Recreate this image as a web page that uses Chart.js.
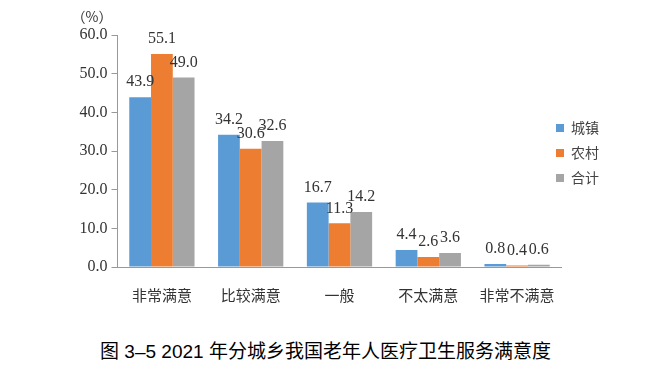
<!DOCTYPE html>
<html>
<head>
<meta charset="utf-8">
<script src="https://cdn.jsdelivr.net/npm/chart.js@4"></script>
<style>
    body { margin: 0; background: #fff; }
    #wrap { position: relative; width: 651px; height: 373px; }
    #box { position: absolute; left: 0; top: 0; width: 651px; height: 310px; }
    #caption {
        position: absolute; left: 0; top: 336px; width: 651px; text-align: center;
        font-family: "Liberation Sans", "Noto Sans CJK SC", sans-serif; font-size: 19px; color: #000;
    }
</style>
</head>
<body>
<div id="wrap">
    <div id="box"><canvas id="satisfactionChart"></canvas></div>
    <div id="caption">图 3–5 2021 年分城乡我国老年人医疗卫生服务满意度</div>
</div>
<script>
// Satisfaction with medical services, urban vs rural (%)
const categories = ['非常满意', '比较满意', '一般', '不太满意', '非常不满意'];
const seriesNames = ['城镇', '农村', '合计'];
const urbanValues = [43.9, 34.2, 16.7, 4.4, 0.8];
const ruralValues = [55.1, 30.6, 11.3, 2.6, 0.4];
const totalValues = [49.0, 32.6, 14.2, 3.6, 0.6];
const yTicks = [0, 10, 20, 30, 40, 50, 60];
const unitLabel = '（%）';

const colors = ['#5B9BD5', '#ED7D31', '#A5A5A5'];
const serif = '"Liberation Serif", "DejaVu Serif", serif';
const cjk = '"Noto Sans CJK SC", sans-serif';

// value labels above bars, unit label and side legend
const extrasPlugin = {
    id: 'extras',
    afterDatasetsDraw(chart) {
        const ctx = chart.ctx;
        ctx.save();
        ctx.font = '16px ' + serif;
        ctx.fillStyle = '#333';
        ctx.textAlign = 'center';
        ctx.textBaseline = 'bottom';
        chart.data.datasets.forEach((ds, i) => {
            chart.getDatasetMeta(i).data.forEach((bar, j) => {
                ctx.fillText(ds.data[j].toFixed(1), bar.x, bar.y - 7);
            });
        });

        ctx.textAlign = 'center';
        ctx.textBaseline = 'middle';
        ctx.font = '14px ' + cjk;
        ctx.fillText(unitLabel, 92, 17);

        ctx.textAlign = 'left';
        ctx.font = '14px ' + cjk;
        chart.data.datasets.forEach((ds, i) => {
            const y = 128 + i * 25;
            ctx.fillStyle = ds.backgroundColor;
            ctx.fillRect(556, y - 4, 8, 8);
            ctx.fillStyle = '#444';
            ctx.fillText(ds.label, 571, y);
        });
        ctx.restore();
    }
};

const ctx = document.getElementById('satisfactionChart');
new Chart(ctx, {
    type: 'bar',
    data: {
        labels: categories,
        datasets: [
            { label: seriesNames[0], data: urbanValues, backgroundColor: colors[0] },
            { label: seriesNames[1], data: ruralValues, backgroundColor: colors[1] },
            { label: seriesNames[2], data: totalValues, backgroundColor: colors[2] }
        ]
    },
    options: {
        responsive: true,
        maintainAspectRatio: false,
        animation: false,
        layout: { padding: { left: 0, top: 35, right: 89.5, bottom: 0 } },
        datasets: { bar: { categoryPercentage: 0.735, barPercentage: 1.0 } },
        plugins: {
            legend: { display: false },
            tooltip: { enabled: false }
        },
        scales: {
            x: {
                grid: { display: false },
                border: { display: true, color: '#999', width: 1 },
                ticks: { font: { family: cjk, size: 15 }, color: '#333', padding: 11 },
                afterFit: s => { s.height = 43; }
            },
            y: {
                min: 0,
                max: 60,
                afterBuildTicks: s => { s.ticks = yTicks.map(v => ({ value: v })); },
                grid: { drawOnChartArea: false, drawTicks: true, tickLength: 6, color: '#999' },
                border: { display: true, color: '#999', width: 1 },
                ticks: {
                    font: { family: serif, size: 16 },
                    color: '#333',
                    padding: 4,
                    callback: v => v.toFixed(1)
                },
                afterFit: s => { s.width = 117.5; }
            }
        }
    },
    plugins: [extrasPlugin]
});
</script>
</body>
</html>
